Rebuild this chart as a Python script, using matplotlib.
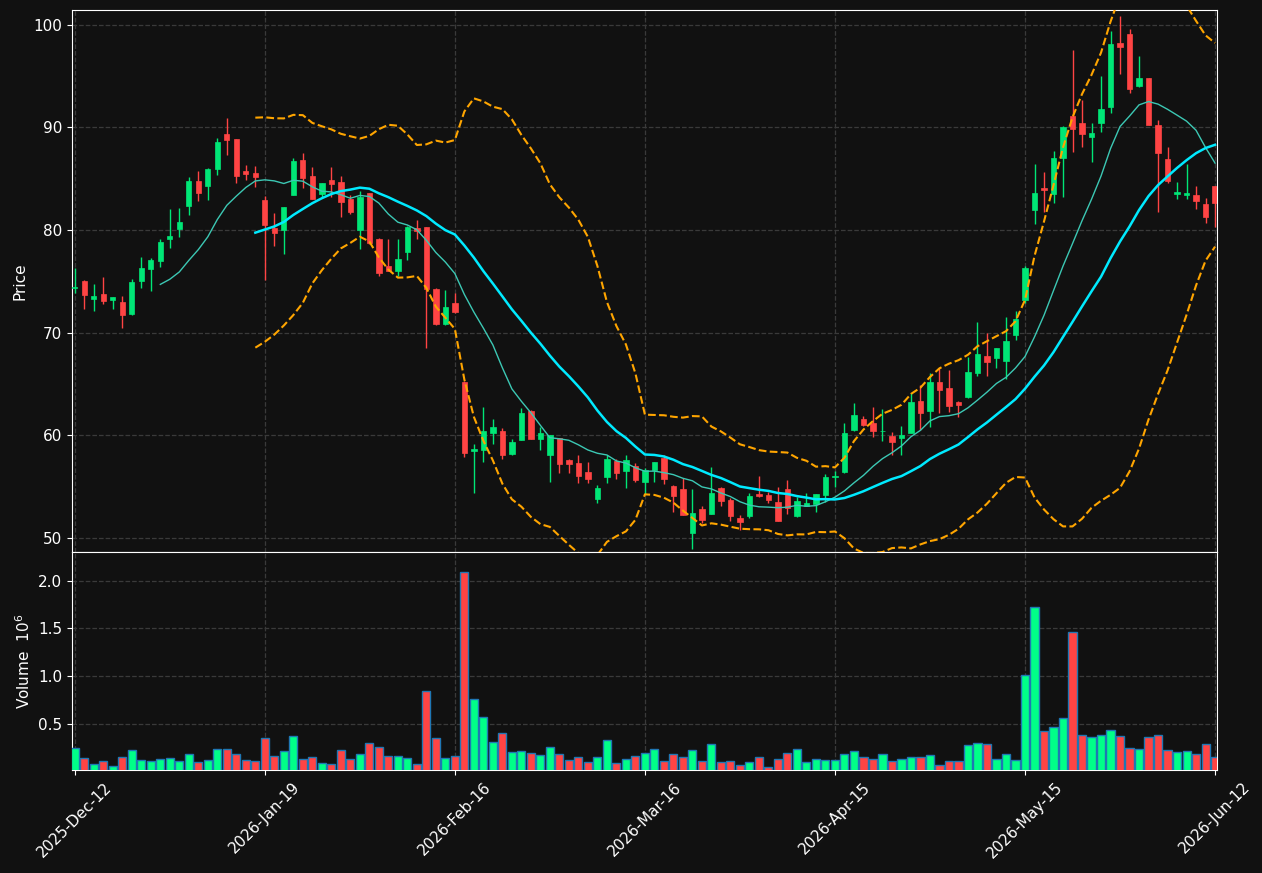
import numpy as np
import pandas as pd
import matplotlib
matplotlib.use("Agg")
import matplotlib.pyplot as plt

# ---- data ----
opens = [74.3, 75.02, 73.27, 73.76, 73.2, 72.98, 71.8, 75.05, 76.2, 77.0,
         79.15, 80.13, 82.34, 84.78, 84.3, 85.95, 89.37, 88.88, 85.76, 85.56,
         82.93, 80.2, 80.03, 83.45, 86.83, 85.27, 83.54, 84.88, 84.68, 83.05,
         80.03, 83.58, 79.12, 76.49, 76.0, 77.88, 80.16, 80.32, 74.24, 70.83,
         72.85, 65.17, 58.47, 58.54, 60.2, 60.39, 58.15, 59.54, 62.34, 59.64,
         58.05, 59.68, 57.56, 57.27, 56.39, 53.76, 55.93, 57.46, 56.52, 56.98,
         55.45, 56.59, 57.76, 55.02, 54.73, 50.44, 52.75, 52.32, 54.83, 53.66,
         51.9, 52.13, 54.3, 54.15, 53.46, 54.73, 52.13, 53.1, 53.27, 54.15,
         55.9, 56.39, 60.49, 61.56, 61.17, 60.36, 59.9, 59.74, 60.2, 63.32,
         62.34, 65.17, 64.58, 63.22, 63.7, 66.05, 67.7, 67.54, 67.22, 69.76,
         73.2, 81.95, 84.07, 83.5, 87.05, 91.12, 90.44, 89.1, 90.47, 92.03,
         98.24, 99.12, 94.08, 94.83, 90.24, 86.93, 83.51, 83.44, 83.41, 82.54,
         84.29]
highs = [76.3, 75.1, 74.73, 75.38, 73.46, 73.56, 75.2, 77.34, 77.27, 79.1,
         82.0, 82.1, 85.14, 85.8, 86.0, 88.95, 90.93, 88.88, 86.34, 86.24,
         83.3, 81.63, 82.24, 86.99, 87.48, 86.12, 84.55, 86.12, 85.27, 83.41,
         83.8, 83.6, 79.2, 79.1, 79.1, 80.39, 80.98, 80.3, 74.3, 74.15,
         73.9, 65.3, 59.12, 62.73, 61.53, 60.68, 59.58, 62.6, 62.4, 60.75,
         60.0, 59.7, 57.66, 58.05, 57.33, 55.1, 58.05, 57.63, 58.05, 57.24,
         56.75, 57.4, 58.05, 55.1, 55.83, 54.73, 53.07, 56.85, 54.9, 53.85,
         52.17, 54.37, 56.0, 54.44, 54.9, 55.6, 54.0, 54.4, 54.3, 56.2,
         56.5, 61.14, 63.1, 61.83, 62.7, 62.5, 60.32, 60.88, 64.07, 64.85,
         66.08, 66.54, 66.3, 63.3, 67.58, 70.99, 70.0, 68.5, 71.48, 72.13,
         76.5, 86.4, 85.7, 87.67, 90.1, 97.53, 92.65, 90.4, 95.0, 99.4,
         100.9, 99.6, 96.98, 94.83, 90.73, 88.1, 84.7, 86.44, 84.29, 83.1,
         84.3]
lows = [73.85, 72.3, 72.13, 72.78, 72.26, 70.47, 71.7, 74.3, 74.1, 76.36,
        78.2, 79.35, 81.43, 82.8, 82.9, 85.34, 87.35, 84.55, 84.88, 84.2,
        75.1, 78.47, 77.63, 83.45, 84.07, 83.05, 83.25, 83.17, 81.24, 81.53,
        78.1, 78.6, 75.5, 76.0, 75.5, 77.05, 79.1, 68.5, 70.7, 70.73,
        71.9, 57.83, 54.37, 57.33, 59.12, 57.63, 58.05, 59.5, 59.6, 58.57,
        55.44, 56.32, 56.32, 55.35, 55.35, 53.4, 55.3, 55.68, 54.8, 55.4,
        54.3, 55.4, 55.2, 52.5, 52.2, 48.9, 51.44, 52.3, 53.1, 51.64,
        50.7, 51.87, 54.0, 53.34, 51.6, 52.26, 52.0, 53.1, 52.5, 53.5,
        54.9, 56.26, 60.39, 60.9, 59.83, 59.44, 58.1, 58.1, 60.2, 60.49,
        60.8, 62.12, 62.27, 61.73, 63.6, 65.78, 65.78, 66.5, 65.5, 69.3,
        72.9, 80.55, 81.8, 82.6, 83.2, 87.58, 88.07, 86.6, 89.6, 91.4,
        95.2, 93.34, 93.98, 90.2, 81.8, 84.6, 83.05, 83.0, 82.08, 80.65,
        80.32]
closes = [74.4, 73.66, 73.53, 73.07, 73.46, 71.71, 74.93, 76.3, 77.07, 78.83,
          79.41, 80.78, 84.78, 83.6, 85.95, 88.58, 88.78, 85.27, 85.5, 85.2,
          80.49, 79.74, 82.24, 86.73, 85.1, 83.05, 84.55, 84.52, 82.76, 81.79,
          83.22, 78.7, 75.83, 76.03, 77.17, 80.32, 79.9, 74.24, 70.83, 72.49,
          72.03, 58.27, 58.66, 60.39, 60.78, 58.05, 59.32, 62.15, 59.64, 60.2,
          60.0, 57.2, 57.2, 56.0, 55.74, 54.83, 57.66, 56.33, 57.56, 55.6,
          56.59, 57.37, 55.7, 54.05, 52.2, 52.39, 51.7, 54.34, 53.6, 52.13,
          51.54, 54.05, 54.1, 53.7, 51.64, 52.9, 53.56, 53.37, 54.24, 55.9,
          56.0, 60.2, 61.95, 60.98, 60.42, 60.42, 59.32, 60.0, 63.22, 62.18,
          65.17, 64.39, 62.83, 62.93, 66.15, 67.9, 67.12, 68.49, 69.17, 71.3,
          76.3, 83.6, 83.9, 87.0, 90.05, 89.82, 89.4, 89.43, 91.78, 98.15,
          97.8, 93.76, 94.83, 90.24, 87.54, 84.78, 83.7, 83.6, 82.86, 81.3,
          82.66]
volumes_m = [0.247, 0.142, 0.079, 0.11, 0.054, 0.153, 0.226, 0.121, 0.11, 0.131,
             0.142, 0.11, 0.184, 0.1, 0.121, 0.237, 0.237, 0.184, 0.121, 0.11,
             0.353, 0.163, 0.216, 0.374, 0.131, 0.153, 0.089, 0.079, 0.226, 0.131,
             0.184, 0.3, 0.258, 0.163, 0.163, 0.142, 0.079, 0.837, 0.353, 0.142,
             0.163, 2.09, 0.753, 0.574, 0.31, 0.405, 0.205, 0.216, 0.195, 0.174,
             0.258, 0.184, 0.121, 0.153, 0.1, 0.153, 0.332, 0.089, 0.131, 0.163,
             0.195, 0.237, 0.11, 0.184, 0.153, 0.226, 0.11, 0.289, 0.1, 0.11,
             0.068, 0.1, 0.153, 0.047, 0.131, 0.195, 0.237, 0.1, 0.131, 0.121,
             0.121, 0.184, 0.216, 0.153, 0.131, 0.184, 0.11, 0.131, 0.153, 0.153,
             0.174, 0.068, 0.11, 0.11, 0.279, 0.3, 0.289, 0.131, 0.184, 0.121,
             1.005, 1.721, 0.426, 0.468, 0.563, 1.458, 0.384, 0.363, 0.384, 0.437,
             0.374, 0.247, 0.237, 0.363, 0.384, 0.226, 0.205, 0.216, 0.184, 0.289,
             0.153]
tick_labels = ["2025-Dec-12", "2026-Jan-19", "2026-Feb-16", "2026-Mar-16",
               "2026-Apr-15", "2026-May-15", "2026-Jun-12"]
tick_positions = [0, 20, 40, 60, 80, 100, 120]

# ---- styling ----
BG = "#111111"
UP = "#00e676"
DOWN = "#ff4444"
VUP = "#00ff88"
VDOWN = "#ff4444"
GRID = "#3a3a3a"

o = np.array(opens); h = np.array(highs); l = np.array(lows); c = np.array(closes)
v = np.array(volumes_m)
n = len(c)
x = np.arange(n)
up = c >= o

cs = pd.Series(c)
mav10 = cs.rolling(10).mean()
mav20 = cs.rolling(20).mean()
std20 = cs.rolling(20).std(ddof=0)
bb_up = mav20 + 2 * std20
bb_lo = mav20 - 2 * std20

fig = plt.figure(figsize=(12.62, 8.73), dpi=100, facecolor=BG)
ax = fig.add_axes([0.057, 0.3677, 0.9073, 0.6208], facecolor=BG)
axv = fig.add_axes([0.057, 0.118, 0.9073, 0.2497], facecolor=BG, sharex=ax)

for a in (ax, axv):
    a.grid(True, color=GRID, linestyle="--", linewidth=0.9)
    a.set_axisbelow(True)
    for s in a.spines.values():
        s.set_color("white")
    a.tick_params(colors="white", labelsize=11)

# candles
bw = 0.56
col = np.where(up, UP, DOWN)
ax.vlines(x, l, h, colors=col, linewidth=1.0, zorder=2)
body_bot = np.minimum(o, c)
body_h = np.maximum(np.abs(c - o), 0.08)
ax.bar(x, body_h, bottom=body_bot, width=bw, color=col, edgecolor=col,
       linewidth=0.5, zorder=3)

ax.plot(x, mav10, color="#3cc8b4", linewidth=1.0, zorder=4)
ax.plot(x, mav20, color="#00eaff", linewidth=1.8, zorder=4)
ax.plot(x, bb_up, color="#ffa500", linewidth=1.5, linestyle="--", zorder=4)
ax.plot(x, bb_lo, color="#ffa500", linewidth=1.5, linestyle="--", zorder=4)

ax.set_ylim(48.6, 101.45)
ax.set_yticks([50, 60, 70, 80, 90, 100])
ax.set_ylabel("Price", color="white", fontsize=11)
ax.tick_params(axis="x", labelbottom=False, length=0)

# volume
vcol = np.where(up, VUP, VDOWN)
axv.bar(x, v, width=0.85, color=vcol, edgecolor="#1f77b4", linewidth=1.0, zorder=3)
axv.set_ylim(0.3 * v.min(), 1.1 * v.max())
axv.set_yticks([0.5, 1.0, 1.5, 2.0])
axv.set_yticklabels(["0.5", "1.0", "1.5", "2.0"])
axv.set_ylabel("Volume  $10^{6}$", color="white", fontsize=11)

axv.set_xlim(-0.3, 120.2)
axv.set_xticks(tick_positions)
axv.set_xticklabels(tick_labels, rotation=45, ha="center",
                    color="white", fontsize=11)

fig.savefig("out.png", dpi=100, facecolor=BG)
